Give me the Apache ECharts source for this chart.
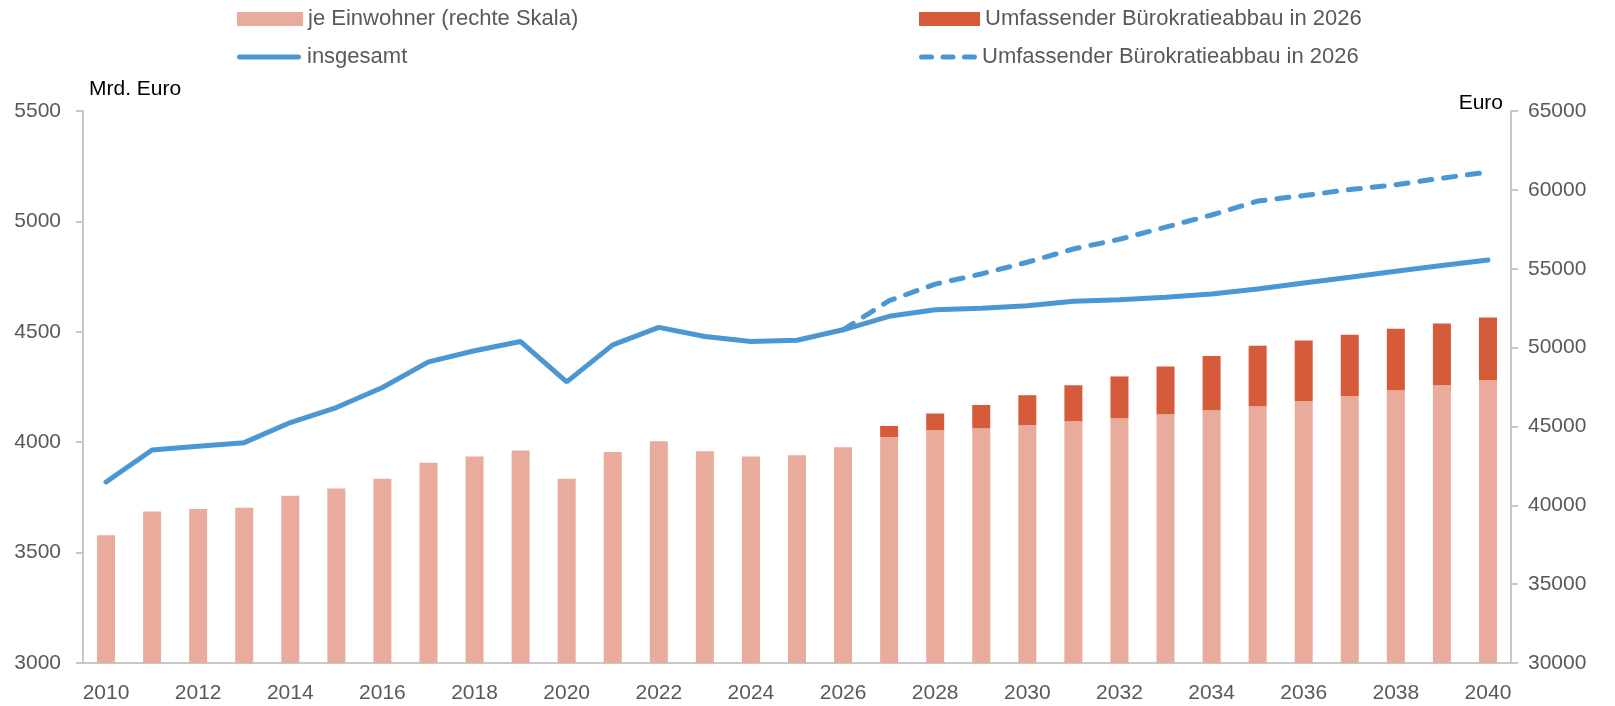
<!DOCTYPE html>
<html>
<head>
<meta charset="utf-8">
<script src="https://cdn.jsdelivr.net/npm/echarts@6/dist/echarts.min.js"></script>
<style>
    html, body { margin: 0; padding: 0; background: #fff; }
    #chart { width: 1615px; height: 706px; }
</style>
</head>
<body>
<div id="chart"></div>
<script>
// Jahre 2010-2040
const years = [];
for (let y = 2010; y <= 2040; y++) years.push(String(y));

// je Einwohner (Euro, rechte Skala)
const perCapita = [38100, 39600, 39760, 39850, 40600, 41070, 41690, 42700, 43100, 43470,
    41690, 43380, 44060, 43420, 43100, 43170, 43680, 44330, 44760, 44880,
    45090, 45340, 45520, 45770, 46030, 46280, 46600, 46930, 47300, 47610, 47930];

// zusaetzlich je Einwohner bei Buerokratieabbau
const perCapitaExtra = [null, null, null, null, null, null, null, null, null, null,
    null, null, null, null, null, null, null, 700, 1060, 1480,
    1890, 2270, 2650, 3030, 3430, 3830, 3850, 3880, 3890, 3920, 3980];

// insgesamt (Mrd. Euro)
const total = [3820, 3965, 3982, 3998, 4089, 4157, 4248, 4364, 4414, 4456,
    4273, 4441, 4520, 4479, 4456, 4462, 4509, 4570, 4600, 4607,
    4618, 4638, 4645, 4656, 4671, 4694, 4721, 4747, 4774, 4800, 4825];

// insgesamt bei Buerokratieabbau
const totalScenario = [null, null, null, null, null, null, null, null, null, null,
    null, null, null, null, null, null, 4509, 4641, 4716, 4762,
    4815, 4875, 4919, 4974, 5029, 5092, 5117, 5144, 5166, 5196, 5223];

const pinkColor = '#E8AB9C';
const redColor = '#D55B3B';
const blueColor = '#4A97D4';
const labelColor = '#595959';
const axisColor = '#C8C8C8';
const fontFamily = '"Liberation Sans", Arial, sans-serif';

const legendText = { fontSize: 22, color: labelColor, fontFamily: fontFamily };

// Legendensymbole fuer die Linien (durchgezogen / gestrichelt)
const solidIcon = 'path://M2.5,0 H61.5 A2.5,2.5 0 0 1 61.5,5 H2.5 A2.5,2.5 0 0 1 2.5,0 Z';
const dashIcon = 'path://M2.5,0 H12.5 A2.5,2.5 0 0 1 12.5,5 H2.5 A2.5,2.5 0 0 1 2.5,0 Z '
    + 'M24,0 H34 A2.5,2.5 0 0 1 34,5 H24 A2.5,2.5 0 0 1 24,0 Z '
    + 'M45.5,0 H55.5 A2.5,2.5 0 0 1 55.5,5 H45.5 A2.5,2.5 0 0 1 45.5,0 Z';

function plainNumber(value) {
    return String(value);
}

var chart = echarts.init(document.getElementById('chart'));
var option = {
    animation: false,
    textStyle: { fontFamily: fontFamily },
    legend: [
        {
            left: 232, top: 3, itemWidth: 66, itemHeight: 14,
            data: [{ name: 'je Einwohner (rechte Skala)', icon: 'rect' }], textStyle: legendText
        },
        {
            left: 232, top: 41, itemWidth: 66, itemHeight: 5,
            data: [{ name: 'insgesamt', icon: solidIcon }], textStyle: legendText
        },
        {
            left: 914, top: 3, itemWidth: 61, itemHeight: 14,
            data: [{ name: 'Umfassender Bürokratieabbau in 2026', icon: 'rect' }], textStyle: legendText
        },
        {
            left: 914, top: 41, itemWidth: 58, itemHeight: 5,
            data: [{ name: 'Bürokratieabbau insgesamt', icon: dashIcon }],
            formatter: function () { return 'Umfassender Bürokratieabbau in 2026'; },
            textStyle: legendText
        }
    ],
    grid: {
        left: 83,
        right: 104,
        top: 111,
        bottom: 43
    },
    xAxis: {
        type: 'category',
        data: years,
        axisLine: { lineStyle: { color: axisColor, width: 2 } },
        axisTick: { show: false },
        axisLabel: {
            interval: 1,
            color: labelColor,
            fontSize: 21,
            margin: 20
        }
    },
    yAxis: [
        {
            type: 'value',
            min: 3000,
            max: 5500,
            interval: 500,
            name: 'Mrd. Euro',
            nameLocation: 'end',
            nameGap: 22,
            nameTextStyle: { color: '#000', fontSize: 21, align: 'left', verticalAlign: 'middle', padding: [0, 0, 0, 6] },
            axisLine: { show: true, lineStyle: { color: axisColor, width: 2 } },
            axisTick: { show: true, length: 7, lineStyle: { color: axisColor, width: 2 } },
            axisLabel: { color: labelColor, fontSize: 21, margin: 22, formatter: plainNumber },
            splitLine: { show: false }
        },
        {
            type: 'value',
            min: 30000,
            max: 65000,
            interval: 5000,
            name: 'Euro',
            nameLocation: 'end',
            nameGap: 8,
            nameTextStyle: { color: '#000', fontSize: 21, align: 'right', verticalAlign: 'middle', padding: [0, 8, 0, 0] },
            position: 'right',
            axisLine: { show: true, lineStyle: { color: axisColor, width: 2 } },
            axisTick: { show: true, length: 7, lineStyle: { color: axisColor, width: 2 } },
            axisLabel: { color: labelColor, fontSize: 21, margin: 17, formatter: plainNumber },
            splitLine: { show: false }
        }
    ],
    series: [
        {
            name: 'je Einwohner (rechte Skala)',
            type: 'bar',
            yAxisIndex: 1,
            stack: 'ew',
            barWidth: 18,
            itemStyle: { color: pinkColor },
            data: perCapita,
            z: 2
        },
        {
            name: 'Umfassender Bürokratieabbau in 2026',
            type: 'bar',
            yAxisIndex: 1,
            stack: 'ew',
            barWidth: 18,
            itemStyle: { color: redColor },
            data: perCapitaExtra,
            z: 2
        },
        {
            name: 'insgesamt',
            type: 'line',
            yAxisIndex: 0,
            symbol: 'none',
            lineStyle: { color: blueColor, width: 5, cap: 'round' },
            itemStyle: { color: blueColor },
            data: total,
            z: 5
        },
        {
            name: 'Bürokratieabbau insgesamt',
            type: 'line',
            yAxisIndex: 0,
            symbol: 'none',
            lineStyle: { color: blueColor, width: 5, type: [12, 12], cap: 'round' },
            itemStyle: { color: blueColor },
            data: totalScenario,
            z: 4
        }
    ]
};
chart.setOption(option);
window.onresize = function () {
    chart.resize();
};
</script>
</body>
</html>
